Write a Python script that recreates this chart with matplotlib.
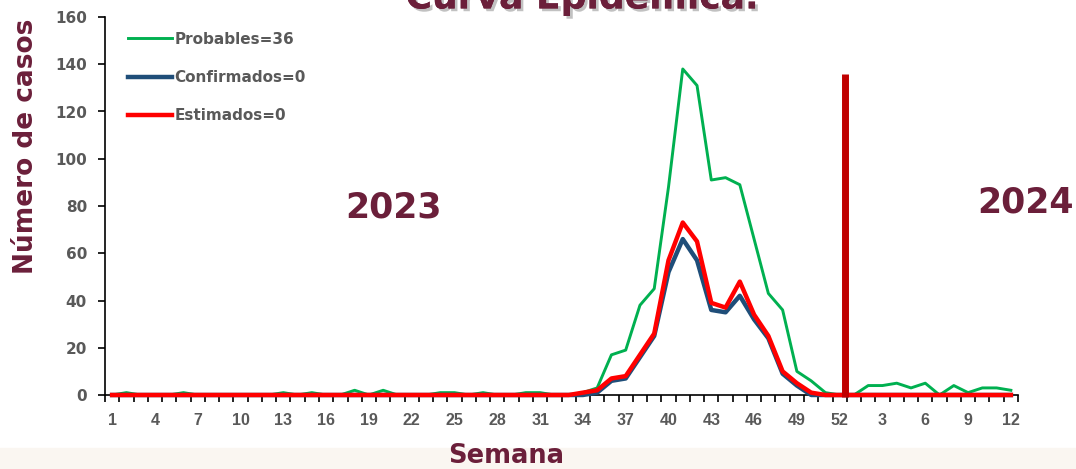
# -*- coding: utf-8 -*-

"""
Output: Figure out.png
Curva epidémica semanal, 2023-2024
"""

### 0 ### Imports

import matplotlib
matplotlib.use("Agg")
import matplotlib.pyplot as plt
import matplotlib.patheffects as pe
from matplotlib.patches import Rectangle

# set some parametres
plt.rcParams['font.family'] = ['DejaVu Sans']
plt.rcParams['savefig.facecolor'] = 'white'

# data: epidemiological weeks (2023 weeks 1-52, then 2024 weeks 1-12)
weeks_2023 = list(range(1, 53))
weeks_2024 = list(range(1, 13))
week_labels = weeks_2023 + weeks_2024

probables = [0, 1, 0, 0, 0, 1, 0, 0, 0, 0, 0, 0, 1, 0, 1, 0, 0, 2, 0, 2,
             0, 0, 0, 1, 1, 0, 1, 0, 0, 1, 1, 0, 0, 1, 3, 17, 19, 38, 45, 88,
             138, 131, 91, 92, 89, 66, 43, 36, 10, 6, 1, 0,
             0, 4, 4, 5, 3, 5, 0, 4, 1, 3, 3, 2]
confirmados = [0] * 34 + [1, 6, 7, 16, 25, 52, 66, 57, 36, 35, 42, 32, 24, 9, 4, 0, 0, 0] + [0] * 12
estimados = [0] * 33 + [1, 2, 7, 8, 17, 26, 57, 73, 65, 39, 37, 48, 34, 25, 10, 5, 1, 0, 0] + [0] * 12

legend_labels = ["Probables=36", "Confirmados=0", "Estimados=0"]
divider_top = 136

maroon = '#6b1f3a'
grey = '#595959'

### 1 ### Figure

fig = plt.figure(figsize=(10.76, 4.69), dpi=100)
fig.patches.append(Rectangle((0, 0), 1, 0.045, transform=fig.transFigure,
                             color='#faf6f1', zorder=0))
ax = fig.add_axes([105/1076, 1 - 395/469, 913/1076, 378/469])

x = list(range(1, len(week_labels) + 1))

ax.plot(x, probables, color='#00b050', lw=2.1, label=legend_labels[0], clip_on=False, zorder=3)
ax.plot(x, confirmados, color='#1f4e79', lw=3.2, label=legend_labels[1], clip_on=False, zorder=4)
ax.plot(x, estimados, color='#ff0000', lw=3.2, label=legend_labels[2], clip_on=False, zorder=5)

# year divider
xd = len(weeks_2023) + 0.4
ax.plot([xd, xd], [-1, divider_top], color='#c00000', lw=5, clip_on=False,
        solid_capstyle='butt', zorder=6)

ax.set_xlim(0.5, len(x) + 0.5)
ax.set_ylim(0, 160)
ax.set_yticks(range(0, 161, 20))

# labels every third week, tick marks between categories
ax.set_xticks(x[::3])
ax.set_xticklabels([str(w) for w in week_labels[::3]])
ax.set_xticks([i + 0.5 for i in range(0, len(x) + 1)], minor=True)
ax.tick_params(axis='x', which='major', length=0, pad=13, labelsize=11.5, labelcolor=grey)
ax.tick_params(axis='x', which='minor', length=5, width=1.2, direction='out')
ax.tick_params(axis='y', length=5, width=1.2, pad=8, labelsize=11, labelcolor=grey)
for t in ax.get_xticklabels():
    t.set_fontweight('bold')
    t.set_family('Liberation Sans')
for t in ax.get_yticklabels():
    t.set_fontweight('bold')

ax.spines['top'].set_visible(False)
ax.spines['right'].set_visible(False)
ax.spines['left'].set_linewidth(1.2)
ax.spines['bottom'].set_linewidth(1.2)

# axis titles placed as in the slide
fig.text(0.024, 0.687, "Número de casos", rotation=90, ha='center', va='center',
         fontsize=19, fontweight='bold', color=maroon)
fig.text(0.470, 0.013, "Semana", ha='center', va='baseline',
         fontsize=18.5, fontweight='bold', color=maroon)

# year annotations
ax.text(0.316, 0.495, "2023", transform=ax.transAxes, ha='center', va='center',
        fontsize=25, fontweight='bold', color=maroon)
ax.text(1.008, 0.508, "2024", transform=ax.transAxes, ha='center', va='center',
        fontsize=25, fontweight='bold', color=maroon)

# legend
leg = ax.legend(loc='upper left', bbox_to_anchor=(0.025, 0.961), frameon=False,
                borderpad=0, borderaxespad=0, handlelength=2.9, handletextpad=0.15,
                labelspacing=1.52, prop={'size': 11, 'weight': 'bold'})
for t in leg.get_texts():
    t.set_color(grey)

# title, cut at the top of the picture as in the reference slide
fig.text(0.541, 0.982, "Curva Epidémica.", ha='center', va='baseline', fontsize=26,
         fontweight='bold', color=maroon,
         path_effects=[pe.withSimplePatchShadow(offset=(2, -2), shadow_rgbFace='#999999', alpha=0.6),
                       pe.Normal()])

### 2 ### Export and save
plt.savefig('out.png', dpi=100)
